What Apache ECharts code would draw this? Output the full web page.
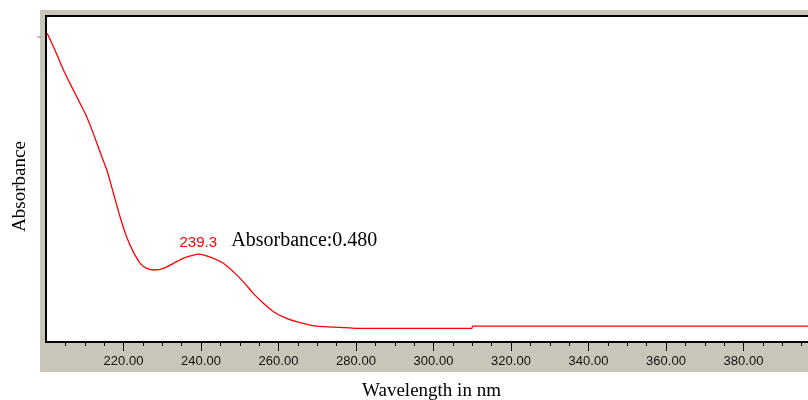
<!DOCTYPE html>
<html>
<head>
<meta charset="utf-8">
<script src="https://cdn.jsdelivr.net/npm/echarts@6/dist/echarts.min.js"></script>
<style>
html,body{margin:0;padding:0;background:#fff;}
#c{width:808px;height:400px;}
</style>
</head>
<body>
<div id="c"></div>
<script>
const wavelengths = [200.3, 202.3, 204.5, 206.6, 208.8, 210.5, 212.2, 214.4, 215.7, 217.4, 219.1, 220.8, 222.5, 224.3, 226.0, 228.1, 230.3, 232.9, 235.4, 238.0, 239.3, 240.6, 243.2, 245.8, 248.3, 250.9, 253.5, 256.1, 258.7, 262.1, 264.7, 268.1, 271.6, 275.9, 280, 290, 300, 309.9, 310.1, 320, 340, 360, 380, 400];
const absorbance = [1.936, 1.826, 1.694, 1.584, 1.474, 1.386, 1.276, 1.122, 1.034, 0.881, 0.726, 0.594, 0.496, 0.419, 0.386, 0.375, 0.386, 0.419, 0.452, 0.472, 0.480, 0.474, 0.452, 0.419, 0.364, 0.298, 0.221, 0.155, 0.100, 0.056, 0.034, 0.012, 0.001, -0.003, -0.010, -0.010, -0.010, -0.010, 0.005, 0.005, 0.005, 0.005, 0.005, 0.005];
const tickValues = [220, 240, 260, 280, 300, 320, 340, 360, 380];
const peakWavelength = 239.3;
const peakAbsorbance = 0.480;
const peakLabel = '239.3';
const peakText = 'Absorbance:0.480';
const xTitle = 'Wavelength in nm';
const yTitle = 'Absorbance';

const chart = echarts.init(document.getElementById('c'), null, {renderer: 'canvas'});
const seriesData = wavelengths.map((w, i) => [w, absorbance[i]]);

chart.setOption({
  animation: false,
  graphic: [
    {type: 'rect', z: -10, shape: {x: 40, y: 10, width: 800, height: 362}, style: {fill: '#c9c5b9'}},
    {type: 'line', shape: {x1: 37, y1: 37, x2: 41, y2: 37}, style: {stroke: '#888', lineWidth: 1}}
  ],
  grid: {
    left: 46, top: 16, right: -13, bottom: 58,
    outerBoundsMode: 'none', containLabel: false,
    show: true, backgroundColor: '#ffffff', borderColor: '#000', borderWidth: 2
  },
  xAxis: {
    type: 'value', min: 200, max: 400, interval: 20,
    name: xTitle, nameLocation: 'middle', nameGap: 40,
    nameTextStyle: {fontFamily: 'Liberation Serif', fontSize: 19, color: '#000', padding: [0, 0, 0, -4]},
    axisLine: {show: true, onZero: false, lineStyle: {color: '#000', width: 2}},
    axisTick: {show: true, customValues: tickValues, length: 9, lineStyle: {color: '#000', width: 1}},
    minorTick: {show: true, splitNumber: 4, length: 4, lineStyle: {color: '#000', width: 1}},
    splitLine: {show: false},
    axisLabel: {
      customValues: tickValues, margin: 13,
      fontFamily: 'Liberation Sans', fontSize: 13, color: '#111',
      formatter: v => v.toFixed(2)
    }
  },
  yAxis: {
    type: 'value', min: -0.1, max: 2.05,
    name: yTitle, nameLocation: 'middle', nameGap: 16, nameRotate: 90,
    nameTextStyle: {fontFamily: 'Liberation Serif', fontSize: 19, color: '#000', padding: [0, 0, 0, -15]},
    axisLine: {show: true, onZero: false, lineStyle: {color: '#000', width: 2}},
    axisTick: {show: false},
    axisLabel: {show: false},
    splitLine: {show: false}
  },
  series: [{
    type: 'line',
    data: seriesData,
    showSymbol: false,
    smooth: 0.25,
    lineStyle: {color: '#ff0000', width: 1.3},
    markPoint: {
      symbol: 'circle', symbolSize: 0,
      data: [
        {coord: [peakWavelength, peakAbsorbance],
         label: {show: true, position: 'top', distance: 4, formatter: peakLabel,
                 fontFamily: 'Liberation Sans', fontSize: 15, color: '#ff0000'}},
        {coord: [peakWavelength, peakAbsorbance],
         label: {show: true, position: 'right', offset: [28, -13], formatter: peakText,
                 fontFamily: 'Liberation Serif', fontSize: 20, color: '#000'}}
      ]
    }
  }]
});
</script>
</body>
</html>
